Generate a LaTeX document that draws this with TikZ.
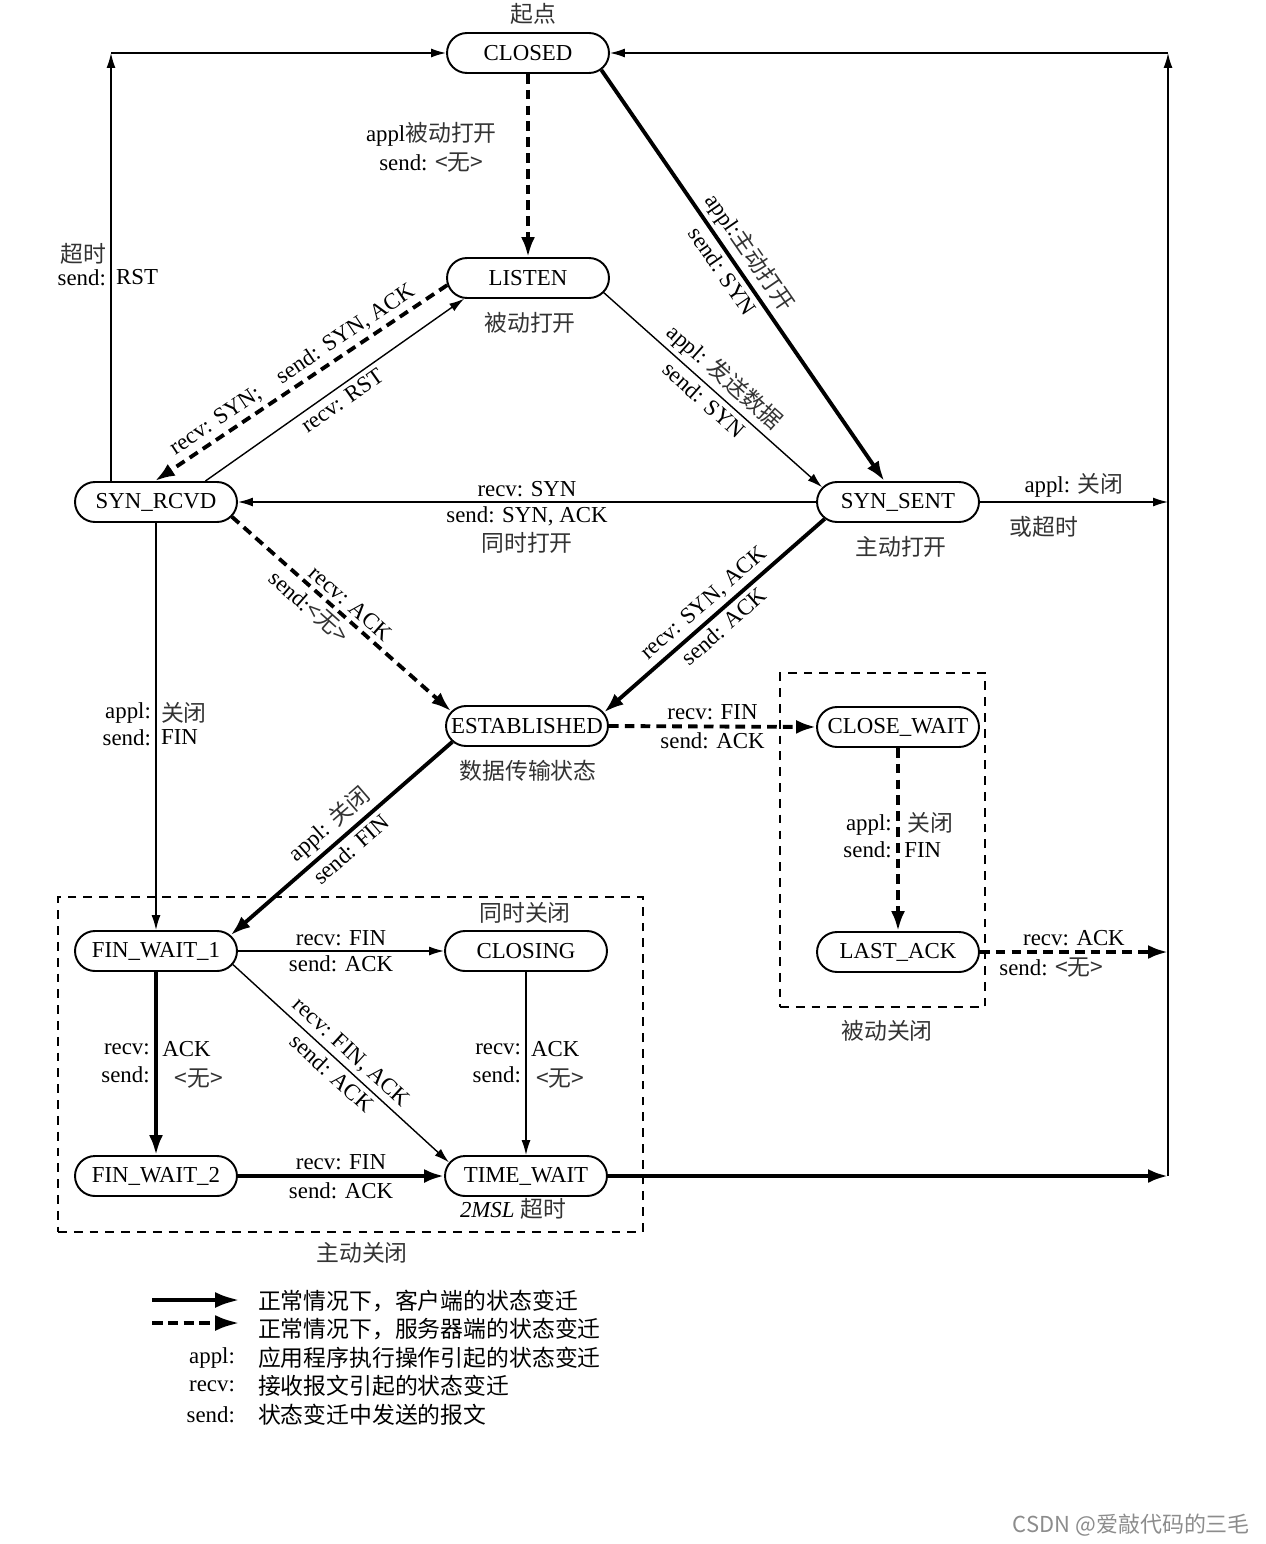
\documentclass[tikz,border=0pt]{standalone}
\usepackage{fontspec}
\setmainfont{Liberation Serif}
\newfontfamily\cjk{Noto Sans CJK SC}
\usepackage{tikz}
\usetikzlibrary{arrows.meta,positioning,shapes.misc}
\newcommand{\zh}[1]{{\cjk\color{black!80}#1}}

\begin{document}
\begin{tikzpicture}[x=0.02cm, y=-0.02cm,
  font=\fontsize{13}{16.5}\selectfont,
  state/.style={draw, rounded rectangle, line width=1.1pt, minimum width=2.64cm, minimum height=0.8cm,
                inner xsep=-0.3cm, inner ysep=1pt},
  client/.style={line width=2.2pt, -{Latex[length=4mm,width=2.8mm]}},
  server/.style={line width=2.2pt, dash pattern=on 5.5pt off 3.5pt, -{Latex[length=4mm,width=2.8mm]}},
  plain/.style={line width=0.8pt, -{Latex[length=3mm,width=1.8mm]}},
  groupbox/.style={draw, line width=0.8pt, dash pattern=on 5pt off 4pt, inner sep=0pt},
  lbl/.style={inner sep=2.5pt},
  note/.style={inner sep=1pt}]
\useasboundingbox (0,0) rectangle (1266,1544);

% dashed groups
\node[groupbox, minimum width=11.7cm, minimum height=6.7cm] (activeBox) at (350.5,1064.5) {};
\node[groupbox, minimum width=4.1cm, minimum height=6.68cm] (passiveBox) at (882.5,840) {};

% states
\node[state] (closed) at (528,53) {CLOSED};
\node[state] (listen) at (528,278) {LISTEN};
\node[state] (synRcvd) at (156,502) {SYN\_RCVD};
\node[state] (synSent) at (898,502) {SYN\_SENT};
\node[state] (estab) at (527,726) {ESTABLISHED};
\node[state] (closeWait) at (898,727) {CLOSE\_WAIT};
\node[state] (lastAck) at (898,952) {LAST\_ACK};
\node[state] (finWaitA) at (156,951) {FIN\_WAIT\_1};
\node[state] (closing) at (526,951) {CLOSING};
\node[state] (finWaitB) at (156,1176) {FIN\_WAIT\_2};
\node[state] (timeWait) at (526,1176) {TIME\_WAIT};

% notes
\node[note] (startLbl) at (533,14) {\zh{起点}};
\node[note] (listenLbl) at (530,323) {\zh{被动打开}};
\node[note] (sentLbl) at (901,547) {\zh{主动打开}};
\node[note] (estabLbl) at (528,771) {\zh{数据传输状态}};
\node[note] (simulLbl) at (525,913) {\zh{同时关闭}};
\node[note] (passiveLbl) at (887,1031) {\zh{被动关闭}};
\node[note] (activeLbl) at (362,1253) {\zh{主动关闭}};
\node[note] (msl) at (513,1209) {\textit{2MSL} \zh{超时}};

% outer return lines
\coordinate (rTop) at (1168,53);
\coordinate (rSyn) at (1168,502);
\coordinate (rLast) at (1168,952);
\coordinate (rBot) at (1168,1176);
\coordinate (lTop) at (111,53);

% transitions
\draw[server] (closed.south) -- node[lbl, pos=0.4, left, xshift=-0.5cm, align=center] (lPassive) {appl\zh{被动打开}\\send: \zh{<无>}} (listen.north);
\draw[client] (closed.-13) -- node[lbl, sloped, above, pos=0.47] (lActA) {appl:\zh{主动打开}}
  node[lbl, sloped, below, pos=0.47] (lActB) {send: SYN} (synSent.123);
\draw[plain] (listen.-11) -- node[lbl, sloped, above] (lDataA) {appl: \zh{发送数据}}
  node[lbl, sloped, below] (lDataB) {send: SYN} (synSent.169);
\draw[server] (listen.185) -- node[lbl, sloped, above] (lSynAck) {recv: SYN;\quad send: SYN, ACK} (synRcvd.93);
\draw[plain] (synRcvd.23) -- node[lbl, sloped, below] (lRst) {recv: RST} (listen.198);
\draw[plain] (synSent.west) -- node[lbl, above] (lSimA) {recv: SYN}
  node[lbl, below, align=center] (lSimB) {send: SYN, ACK\\\zh{同时打开}} (synRcvd.east);
\draw[server] (synRcvd.-11) -- node[lbl, sloped, above] (lAckA) {recv: ACK}
  node[lbl, sloped, below, pos=0.4] (lAckB) {send:\zh{<无>}} (estab.169);
\draw[client] (synSent.193) -- node[lbl, sloped, above] (lSaA) {recv: SYN, ACK}
  node[lbl, sloped, below] (lSaB) {send: ACK} (estab.10);
\draw[server] (estab.east) -- node[lbl, above] (lFinA) {recv: FIN}
  node[lbl, below] (lFinB) {send: ACK} (closeWait.west);
\draw[client] (estab.192) -- node[lbl, sloped, above] (lCloseA) {appl: \zh{关闭}}
  node[lbl, sloped, below] (lCloseB) {send: FIN} (finWaitA.12);
\draw[plain] (synRcvd.south) -- node[lbl, pos=0.466, left] (lRcA) {appl:} node[lbl, pos=0.466, right] (lRcB) {\zh{关闭}}
  node[lbl, pos=0.527, left] (lRcC) {send:} node[lbl, pos=0.527, right] (lRcD) {FIN} (finWaitA.north);
\draw[server] (closeWait.south) -- node[lbl, pos=0.42, left] (lCwA) {appl:} node[lbl, pos=0.41, right, xshift=2pt] (lCwB) {\zh{关闭}}
  node[lbl, pos=0.555, left] (lCwC) {send:} node[lbl, pos=0.555, right] (lCwD) {FIN} (lastAck.north);
\draw[server] (lastAck.east) -- node[lbl, above] (lLaA) {recv: ACK}
  node[lbl, below, pos=0.38] (lLaB) {send: \zh{<无>}} (rLast);
\draw[plain] (finWaitA.east) -- node[lbl, above] (lFwA) {recv: FIN}
  node[lbl, below] (lFwB) {send: ACK} (closing.west);
\draw[client] (finWaitA.south) -- node[lbl, pos=0.42, left] (lF12A) {recv:} node[lbl, pos=0.42, right] (lF12B) {ACK}
  node[lbl, pos=0.56, left] (lF12C) {send:} node[lbl, pos=0.58, right, xshift=0.25cm] (lF12D) {\zh{<无>}} (finWaitB.north);
\draw[plain] (finWaitA.-10) -- node[lbl, sloped, above] (lFaA) {recv: FIN, ACK}
  node[lbl, sloped, below] (lFaB) {send: ACK} (timeWait.170);
\draw[plain] (closing.south) -- node[lbl, pos=0.42, left] (lClA) {recv:} node[lbl, pos=0.42, right] (lClB) {ACK}
  node[lbl, pos=0.56, left] (lClC) {send:} node[lbl, pos=0.58, right, xshift=0.1cm] (lClD) {\zh{<无>}} (timeWait.north);
\draw[client] (finWaitB.east) -- node[lbl, above] (lF2A) {recv: FIN}
  node[lbl, below] (lF2B) {send: ACK} (timeWait.west);
\draw[client] (timeWait.east) -- (rBot);
\draw[plain] (synSent.east) -- node[lbl, above] (lSsA) {appl: \zh{关闭}}
  node[lbl, below=5pt, pos=0.34] (lSsB) {\zh{或超时}} (rSyn);
\draw[plain] (rBot) -- (rTop);
\draw[plain] (rTop) -- (closed.east);
\draw[plain] (synRcvd.north -| lTop) -- node[lbl, pos=0.53, left] (lToA) {\zh{超时}}
  node[lbl, pos=0.476, left] (lToB) {send:} node[lbl, pos=0.476, right] (lToC) {RST} (lTop);
\draw[plain] (lTop) -- (closed.west);

% legend
\coordinate (legA) at (152,1300);
\coordinate (legAe) at (240,1300);
\coordinate (legB) at (152,1323);
\coordinate (legBe) at (240,1323);
\draw[line width=2.6pt, -{Latex[length=5mm,width=3.2mm]}] (legA) -- (legAe);
\draw[line width=2.6pt, dash pattern=on 6pt off 3pt, -{Latex[length=5mm,width=3.2mm]}] (legB) -- (legBe);
\node[note, anchor=west] (legTxtA) at (256,1301) {\cjk 正常情况下，客户端的状态变迁};
\node[note, anchor=west] (legTxtB) at (256,1329) {\cjk 正常情况下，服务器端的状态变迁};
\node[note, anchor=east] (legAppl) at (237,1358) {appl:};
\node[note, anchor=west] (legTxtC) at (256,1358) {\cjk 应用程序执行操作引起的状态变迁};
\node[note, anchor=east] (legRecv) at (237,1386) {recv:};
\node[note, anchor=west] (legTxtD) at (256,1386) {\cjk 接收报文引起的状态变迁};
\node[note, anchor=east] (legSend) at (237,1415) {send:};
\node[note, anchor=west] (legTxtE) at (256,1415) {\cjk 状态变迁中发送的报文};

\node[note, anchor=east, text=black!45] (mark) at (1252,1525) {\cjk\fontsize{12.5}{14}\selectfont CSDN @爱敲代码的三毛};
\end{tikzpicture}
\end{document}
